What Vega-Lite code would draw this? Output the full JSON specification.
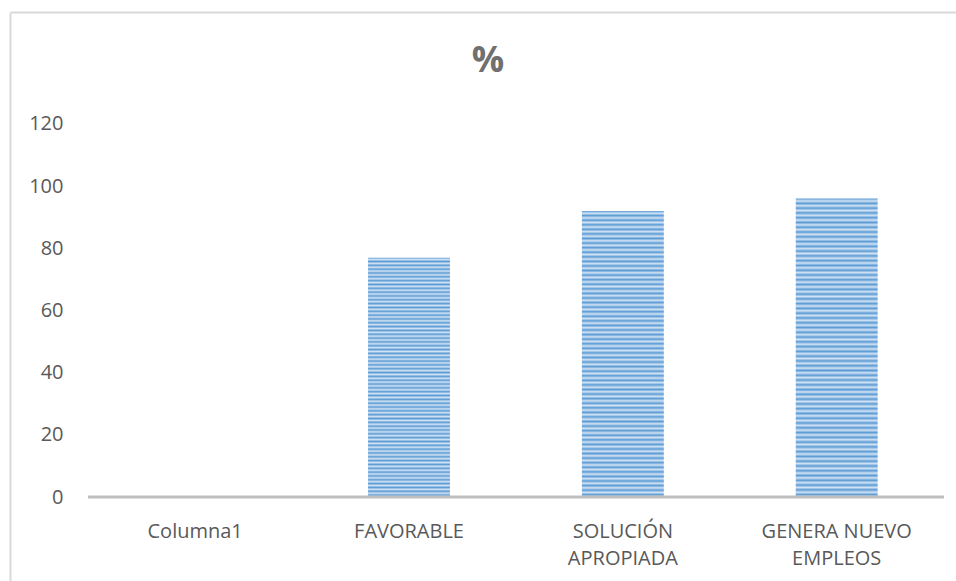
{
  "$schema": "https://vega.github.io/schema/vega-lite/v6.json",
  "width": 946,
  "height": 569,
  "autosize": {"type": "none"},
  "padding": {"left": 10, "top": 12, "right": 0, "bottom": 0},
  "background": "white",
  "config": {"view": {"stroke": null}, "font": "Open Sans"},
  "title": {"text": "%", "font": "Open Sans", "fontSize": 36, "fontWeight": "bold", "color": "#707070", "anchor": "middle", "baseline": "alphabetic", "offset": -96, "dx": 5},
  "data": {"values": [
    {"cat": "Columna1", "value": 0},
    {"cat": "FAVORABLE", "value": 77},
    {"cat": "SOLUCIÓN APROPIADA", "value": 92},
    {"cat": "GENERA NUEVO EMPLEOS", "value": 96}
  ]},
  "resolve": {"scale": {"x": "independent"}, "axis": {"x": "independent"}},
  "layer": [
    {
      "mark": {"type": "bar", "color": {"gradient": "linear", "x1": 0, "y1": 0, "x2": 0, "y2": 1, "stops": [
{"offset":0,"color":"#5b9bd5"},{"offset":0.008,"color":"#d2e3f4"},
{"offset":0.016,"color":"#5b9bd5"},{"offset":0.024,"color":"#d2e3f4"},
{"offset":0.032,"color":"#5b9bd5"},{"offset":0.04,"color":"#d2e3f4"},
{"offset":0.048,"color":"#5b9bd5"},{"offset":0.056,"color":"#d2e3f4"},
{"offset":0.064,"color":"#5b9bd5"},{"offset":0.072,"color":"#d2e3f4"},
{"offset":0.08,"color":"#5b9bd5"},{"offset":0.088,"color":"#d2e3f4"},
{"offset":0.096,"color":"#5b9bd5"},{"offset":0.104,"color":"#d2e3f4"},
{"offset":0.112,"color":"#5b9bd5"},{"offset":0.12,"color":"#d2e3f4"},
{"offset":0.128,"color":"#5b9bd5"},{"offset":0.136,"color":"#d2e3f4"},
{"offset":0.144,"color":"#5b9bd5"},{"offset":0.152,"color":"#d2e3f4"},
{"offset":0.16,"color":"#5b9bd5"},{"offset":0.168,"color":"#d2e3f4"},
{"offset":0.176,"color":"#5b9bd5"},{"offset":0.184,"color":"#d2e3f4"},
{"offset":0.192,"color":"#5b9bd5"},{"offset":0.2,"color":"#d2e3f4"},
{"offset":0.208,"color":"#5b9bd5"},{"offset":0.216,"color":"#d2e3f4"},
{"offset":0.224,"color":"#5b9bd5"},{"offset":0.232,"color":"#d2e3f4"},
{"offset":0.24,"color":"#5b9bd5"},{"offset":0.248,"color":"#d2e3f4"},
{"offset":0.256,"color":"#5b9bd5"},{"offset":0.264,"color":"#d2e3f4"},
{"offset":0.272,"color":"#5b9bd5"},{"offset":0.28,"color":"#d2e3f4"},
{"offset":0.288,"color":"#5b9bd5"},{"offset":0.296,"color":"#d2e3f4"},
{"offset":0.304,"color":"#5b9bd5"},{"offset":0.312,"color":"#d2e3f4"},
{"offset":0.32,"color":"#5b9bd5"},{"offset":0.328,"color":"#d2e3f4"},
{"offset":0.336,"color":"#5b9bd5"},{"offset":0.344,"color":"#d2e3f4"},
{"offset":0.352,"color":"#5b9bd5"},{"offset":0.36,"color":"#d2e3f4"},
{"offset":0.368,"color":"#5b9bd5"},{"offset":0.376,"color":"#d2e3f4"},
{"offset":0.384,"color":"#5b9bd5"},{"offset":0.392,"color":"#d2e3f4"},
{"offset":0.4,"color":"#5b9bd5"},{"offset":0.408,"color":"#d2e3f4"},
{"offset":0.416,"color":"#5b9bd5"},{"offset":0.424,"color":"#d2e3f4"},
{"offset":0.432,"color":"#5b9bd5"},{"offset":0.44,"color":"#d2e3f4"},
{"offset":0.448,"color":"#5b9bd5"},{"offset":0.456,"color":"#d2e3f4"},
{"offset":0.464,"color":"#5b9bd5"},{"offset":0.472,"color":"#d2e3f4"},
{"offset":0.48,"color":"#5b9bd5"},{"offset":0.488,"color":"#d2e3f4"},
{"offset":0.496,"color":"#5b9bd5"},{"offset":0.504,"color":"#d2e3f4"},
{"offset":0.512,"color":"#5b9bd5"},{"offset":0.52,"color":"#d2e3f4"},
{"offset":0.528,"color":"#5b9bd5"},{"offset":0.536,"color":"#d2e3f4"},
{"offset":0.544,"color":"#5b9bd5"},{"offset":0.552,"color":"#d2e3f4"},
{"offset":0.56,"color":"#5b9bd5"},{"offset":0.568,"color":"#d2e3f4"},
{"offset":0.576,"color":"#5b9bd5"},{"offset":0.584,"color":"#d2e3f4"},
{"offset":0.592,"color":"#5b9bd5"},{"offset":0.6,"color":"#d2e3f4"},
{"offset":0.608,"color":"#5b9bd5"},{"offset":0.616,"color":"#d2e3f4"},
{"offset":0.624,"color":"#5b9bd5"},{"offset":0.632,"color":"#d2e3f4"},
{"offset":0.64,"color":"#5b9bd5"},{"offset":0.648,"color":"#d2e3f4"},
{"offset":0.656,"color":"#5b9bd5"},{"offset":0.664,"color":"#d2e3f4"},
{"offset":0.672,"color":"#5b9bd5"},{"offset":0.68,"color":"#d2e3f4"},
{"offset":0.688,"color":"#5b9bd5"},{"offset":0.696,"color":"#d2e3f4"},
{"offset":0.704,"color":"#5b9bd5"},{"offset":0.712,"color":"#d2e3f4"},
{"offset":0.72,"color":"#5b9bd5"},{"offset":0.728,"color":"#d2e3f4"},
{"offset":0.736,"color":"#5b9bd5"},{"offset":0.744,"color":"#d2e3f4"},
{"offset":0.752,"color":"#5b9bd5"},{"offset":0.76,"color":"#d2e3f4"},
{"offset":0.768,"color":"#5b9bd5"},{"offset":0.776,"color":"#d2e3f4"},
{"offset":0.784,"color":"#5b9bd5"},{"offset":0.792,"color":"#d2e3f4"},
{"offset":0.8,"color":"#5b9bd5"},{"offset":0.808,"color":"#d2e3f4"},
{"offset":0.816,"color":"#5b9bd5"},{"offset":0.824,"color":"#d2e3f4"},
{"offset":0.832,"color":"#5b9bd5"},{"offset":0.84,"color":"#d2e3f4"},
{"offset":0.848,"color":"#5b9bd5"},{"offset":0.856,"color":"#d2e3f4"},
{"offset":0.864,"color":"#5b9bd5"},{"offset":0.872,"color":"#d2e3f4"},
{"offset":0.88,"color":"#5b9bd5"},{"offset":0.888,"color":"#d2e3f4"},
{"offset":0.896,"color":"#5b9bd5"},{"offset":0.904,"color":"#d2e3f4"},
{"offset":0.912,"color":"#5b9bd5"},{"offset":0.92,"color":"#d2e3f4"},
{"offset":0.928,"color":"#5b9bd5"},{"offset":0.936,"color":"#d2e3f4"},
{"offset":0.944,"color":"#5b9bd5"},{"offset":0.952,"color":"#d2e3f4"},
{"offset":0.96,"color":"#5b9bd5"},{"offset":0.968,"color":"#d2e3f4"},
{"offset":0.976,"color":"#5b9bd5"},{"offset":0.984,"color":"#d2e3f4"},
{"offset":0.992,"color":"#5b9bd5"},{"offset":1,"color":"#d2e3f4"}
      ]}},
      "encoding": {
        "x": {"field": "cat", "type": "nominal", "sort": null,
          "scale": {"paddingInner": 0.617, "paddingOuter": 0.5203, "align": 0.648},
          "axis": {"orient": "bottom", "offset": -84, "domain": false, "ticks": false, "grid": false, "title": null,
            "labelAngle": 0, "labelPadding": 24, "labelFont": "Open Sans", "labelFontSize": 20, "labelColor": "#595959", "labelLineHeight": 27, "labelLimit": 300,
            "labelExpr": "datum.value == 'SOLUCIÓN APROPIADA' ? ['SOLUCIÓN', 'APROPIADA'] : datum.value == 'GENERA NUEVO EMPLEOS' ? ['GENERA NUEVO', 'EMPLEOS'] : datum.value"}},
        "y": {"field": "value", "type": "quantitative",
          "scale": {"domain": [-27.02, 156.03], "nice": false, "zero": false},
          "axis": {"values": [0, 20, 40, 60, 80, 100, 120], "domain": true, "domainColor": "#d9d9d9", "domainWidth": 2, "ticks": false, "tickSize": 0, "grid": false, "title": null,
            "labelPadding": -53, "labelAlign": "right", "labelFont": "Open Sans", "labelFontSize": 20, "labelColor": "#595959"}},
        "y2": {"datum": 0}
      }
    },
    {
      "mark": {"type": "bar", "color": "#bfbfbf"},
      "encoding": {
        "x": {"field": "cat", "type": "nominal", "sort": null,
          "scale": {"paddingInner": 0, "paddingOuter": 0.2103, "align": 0.8667},
          "axis": {"orient": "top", "labels": false, "ticks": false, "domain": true, "domainColor": "#d9d9d9", "domainWidth": 2, "grid": false, "title": null}},
        "y": {"datum": 0.5},
        "y2": {"datum": -0.5}
      }
    }
  ]
}
